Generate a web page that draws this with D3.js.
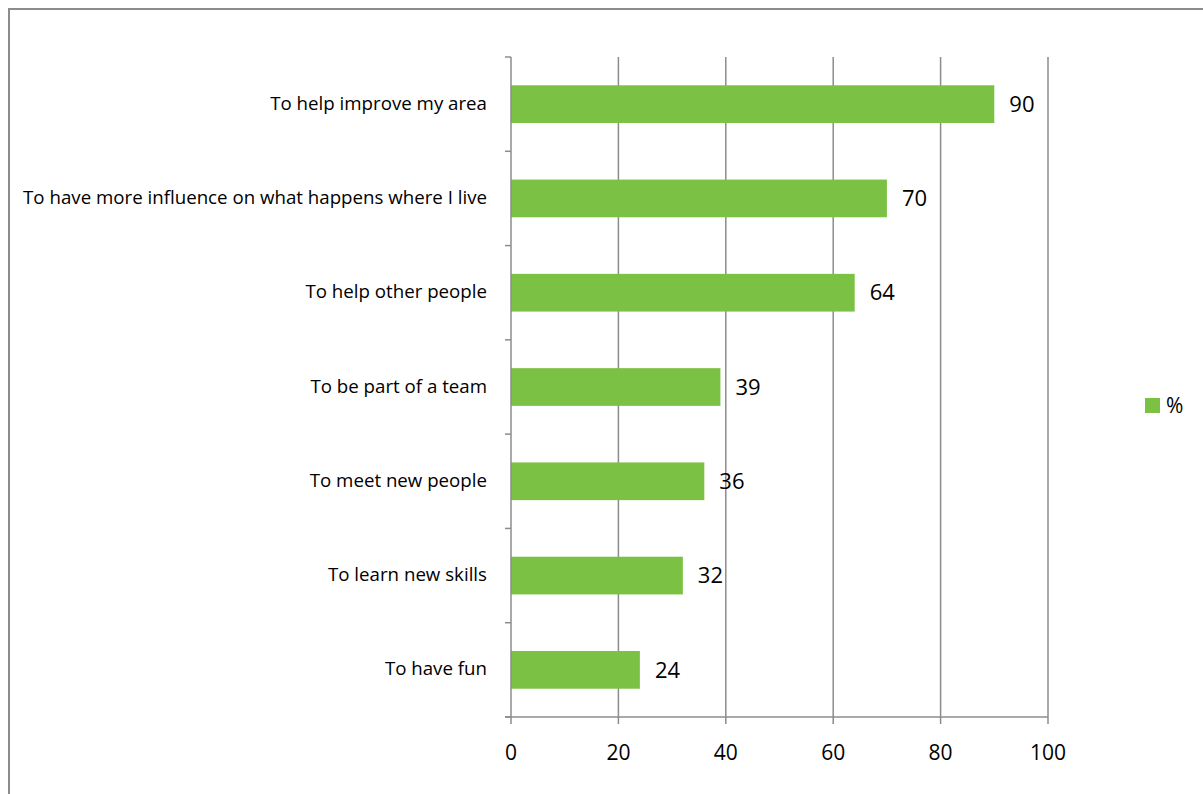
<!DOCTYPE html>
<html><head><meta charset="utf-8">
<script src="https://cdnjs.cloudflare.com/ajax/libs/d3/7.8.5/d3.min.js"></script>
<style>body{margin:0;background:#fff;} svg{display:block;}</style>
</head><body>
<svg id="c" width="1203" height="794"></svg>
<script>
const categories = ["To help improve my area","To have more influence on what happens where I live","To help other people","To be part of a team","To meet new people","To learn new skills","To have fun"];
const values = [90,70,64,39,36,32,24];
const xTicks = [0,20,40,60,80,100];
const seriesName = "%";

const svg = d3.select("#c");
const font = "'Open Sans', sans-serif";
const gray = "#8c8c8c";
const green = "#7bc143";

svg.append("path").attr("d","M9,794 V9 H1203").attr("fill","none").attr("stroke",gray).attr("stroke-width",2);

const L=511, R=1048, T=57, B=717;
const x = d3.scaleLinear().domain([0,100]).range([L,R]);
const y = d3.scaleBand().domain(categories).range([T,B]).paddingInner(0.6).paddingOuter(0.3);
const yb = d3.scaleBand().domain(categories).range([T,B]);

// gridlines
svg.append("g").selectAll("line").data(xTicks.slice(1)).join("line")
  .attr("x1",d=>x(d)).attr("x2",d=>x(d)).attr("y1",T).attr("y2",B)
  .attr("stroke",gray).attr("stroke-width",1.5);

// bars
svg.append("g").selectAll("rect").data(values).join("rect")
  .attr("x",x(0)).attr("y",(d,i)=>y(categories[i])).attr("width",d=>x(d)-x(0)).attr("height",y.bandwidth())
  .attr("fill",green);

// x axis
svg.append("line").attr("x1",L-6).attr("x2",R).attr("y1",B).attr("y2",B).attr("stroke",gray).attr("stroke-width",1.5);
svg.append("g").selectAll("line").data(xTicks).join("line")
  .attr("x1",d=>x(d)).attr("x2",d=>x(d)).attr("y1",B).attr("y2",B+7).attr("stroke",gray).attr("stroke-width",1.5);
svg.append("g").selectAll("text").data(xTicks).join("text")
  .attr("x",d=>x(d)).attr("y",760).attr("text-anchor","middle")
  .attr("font-family",font).attr("font-size",21).attr("fill","#000").text(d=>d);

// y axis
svg.append("line").attr("x1",L).attr("x2",L).attr("y1",T).attr("y2",B).attr("stroke",gray).attr("stroke-width",1.5);
const bounds = categories.map(c=>yb(c)).concat([B]);
svg.append("g").selectAll("line").data(bounds).join("line")
  .attr("x1",L-6).attr("x2",L).attr("y1",d=>d).attr("y2",d=>d).attr("stroke",gray).attr("stroke-width",1.5);
svg.append("g").selectAll("text").data(categories).join("text")
  .attr("x",487).attr("y",d=>y(d)+y.bandwidth()/2-1).attr("dy","0.35em").attr("text-anchor","end")
  .attr("font-family",font).attr("font-size",18.7).attr("fill","#000").text(d=>d);

// value labels
svg.append("g").selectAll("text").data(values).join("text")
  .attr("x",d=>x(d)+15).attr("y",(d,i)=>y(categories[i])+y.bandwidth()/2).attr("dy","0.35em")
  .attr("font-family",font).attr("font-size",22).attr("fill","#000").text(d=>d);

// legend
svg.append("rect").attr("x",1145).attr("y",398).attr("width",15).attr("height",15).attr("fill",green);
svg.append("text").attr("x",1166).attr("y",406).attr("dy","0.35em").attr("font-family",font).attr("font-size",21).attr("fill","#000").text(seriesName);
</script>
</body></html>
